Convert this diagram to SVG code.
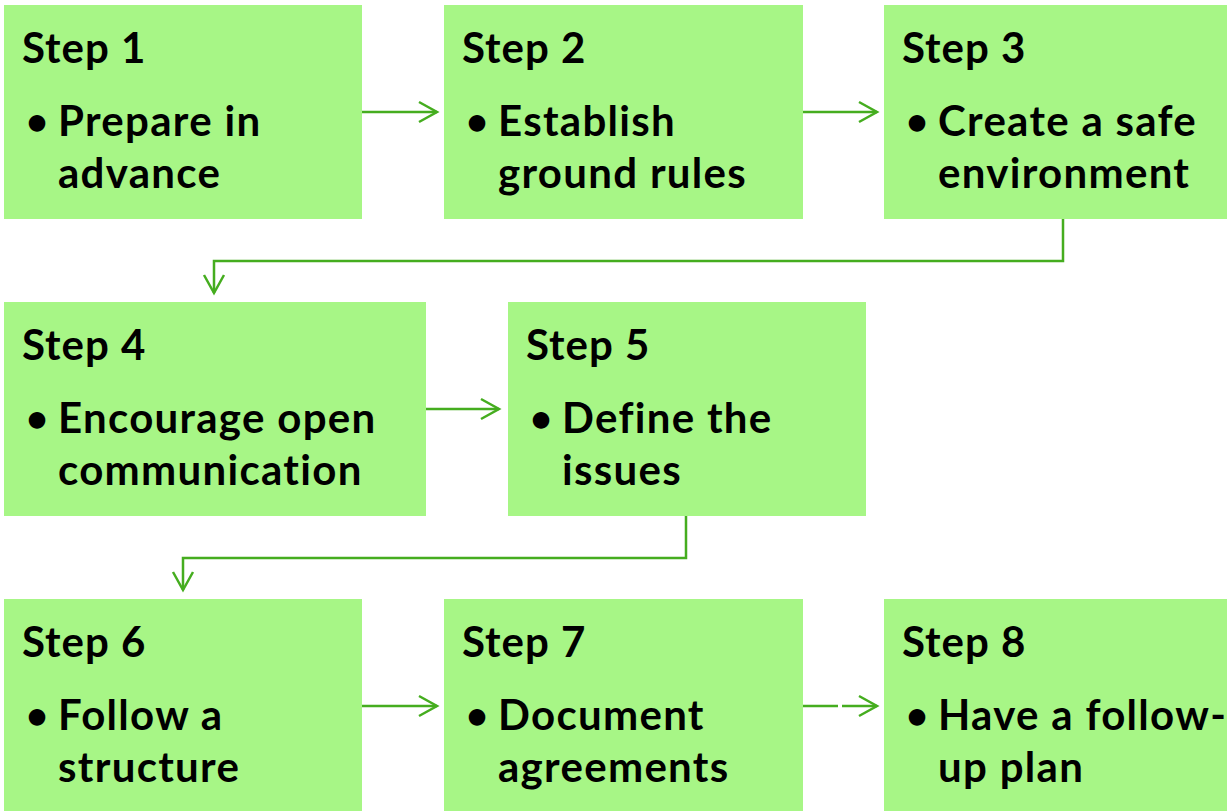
<svg xmlns="http://www.w3.org/2000/svg" width="1227" height="811" viewBox="0 0 1227 811">
  <style>
    .box { fill: #a7f686; }
    .head { font-family: Lato, "Liberation Sans", sans-serif; font-weight: 700; font-size: 42px; letter-spacing: 1px; fill: #000; }
    .item { font-family: Lato, "Liberation Sans", sans-serif; font-weight: 700; font-size: 42px; letter-spacing: 1.3px; fill: #000; }
    .dot { font-family: Lato, "Liberation Sans", sans-serif; font-weight: 700; font-size: 38px; fill: #000; }
    .link { fill: none; stroke: #45ad1f; stroke-width: 2.5; }
  </style>
  <defs>
    <marker id="chev" markerUnits="userSpaceOnUse" markerWidth="24" markerHeight="24" viewBox="-20 -12 24 24" refX="0" refY="0" orient="auto">
      <path d="M-18,-10 L0,0 L-18,10" fill="none" stroke="#45ad1f" stroke-width="2.5"/>
    </marker>
  </defs>

  <rect width="1227" height="811" fill="#ffffff"/>

  <g id="connectors">
    <path class="link" d="M362,112 H437" marker-end="url(#chev)"/>
    <path class="link" d="M803,112 H877" marker-end="url(#chev)"/>
    <path class="link" d="M1063,219 V261 H214 V293" marker-end="url(#chev)"/>
    <path class="link" d="M426,409 H499" marker-end="url(#chev)"/>
    <path class="link" d="M686,516 V558 H183 V590" marker-end="url(#chev)"/>
    <path class="link" d="M362,706 H437" marker-end="url(#chev)"/>
    <path class="link" d="M803,706 H838"/>
    <path class="link" d="M842,706 H877" marker-end="url(#chev)"/>
  </g>

  <g id="step1">
    <rect class="box" x="4" y="5" width="358" height="214"/>
    <text class="head" x="22" y="63">Step 1</text>
    <text class="dot" x="26" y="135">•</text>
    <text class="item" x="58" y="136">Prepare in</text>
    <text class="item" x="58" y="188">advance</text>
  </g>

  <g id="step2">
    <rect class="box" x="444" y="5" width="359" height="214"/>
    <text class="head" x="462" y="63">Step 2</text>
    <text class="dot" x="466" y="135">•</text>
    <text class="item" x="498" y="136">Establish</text>
    <text class="item" x="498" y="188">ground rules</text>
  </g>

  <g id="step3">
    <rect class="box" x="884" y="5" width="343" height="214"/>
    <text class="head" x="902" y="63">Step 3</text>
    <text class="dot" x="906" y="135">•</text>
    <text class="item" x="938" y="136">Create a safe</text>
    <text class="item" x="938" y="188">environment</text>
  </g>

  <g id="step4">
    <rect class="box" x="4" y="302" width="422" height="214"/>
    <text class="head" x="22" y="360">Step 4</text>
    <text class="dot" x="26" y="432">•</text>
    <text class="item" x="58" y="433">Encourage open</text>
    <text class="item" x="58" y="485">communication</text>
  </g>

  <g id="step5">
    <rect class="box" x="508" y="302" width="358" height="214"/>
    <text class="head" x="526" y="360">Step 5</text>
    <text class="dot" x="530" y="432">•</text>
    <text class="item" x="562" y="433">Define the</text>
    <text class="item" x="562" y="485">issues</text>
  </g>

  <g id="step6">
    <rect class="box" x="4" y="599" width="358" height="212"/>
    <text class="head" x="22" y="657">Step 6</text>
    <text class="dot" x="26" y="729">•</text>
    <text class="item" x="58" y="730">Follow a</text>
    <text class="item" x="58" y="782">structure</text>
  </g>

  <g id="step7">
    <rect class="box" x="444" y="599" width="359" height="212"/>
    <text class="head" x="462" y="657">Step 7</text>
    <text class="dot" x="466" y="729">•</text>
    <text class="item" x="498" y="730">Document</text>
    <text class="item" x="498" y="782">agreements</text>
  </g>

  <g id="step8">
    <rect class="box" x="884" y="599" width="343" height="212"/>
    <text class="head" x="902" y="657">Step 8</text>
    <text class="dot" x="906" y="729">•</text>
    <text class="item" x="938" y="730">Have a follow-</text>
    <text class="item" x="938" y="782">up plan</text>
  </g>
</svg>
